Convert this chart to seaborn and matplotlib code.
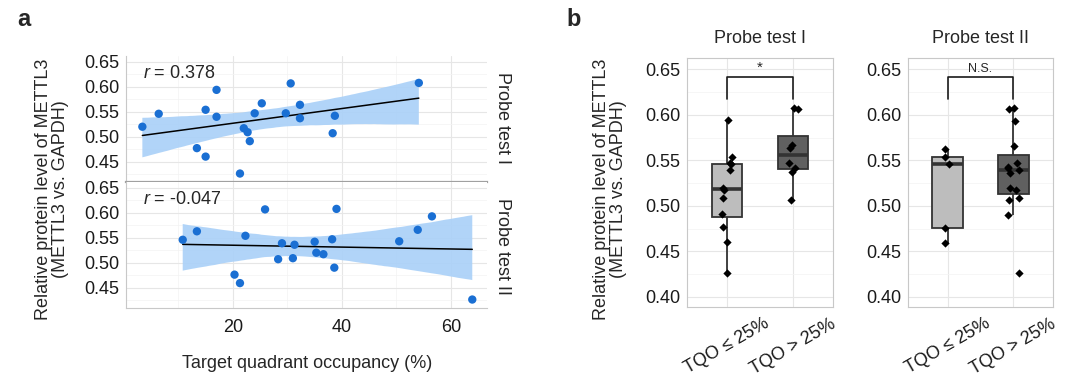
import numpy as np
import pandas as pd
import matplotlib
matplotlib.use("Agg")
import matplotlib.pyplot as plt
from matplotlib.ticker import MultipleLocator, FormatStrFormatter
import seaborn as sns

sns.set_style("white")
plt.rcParams["font.family"] = ["Liberation Sans", "DejaVu Sans"]
plt.rcParams["mathtext.fontset"] = "custom"
plt.rcParams["mathtext.it"] = "Liberation Sans:italic"
plt.rcParams["mathtext.rm"] = "Liberation Sans"

# ---------------- data ----------------
tqo_probe1 = [3.4, 6.4, 13.4, 15.0, 15.0, 17.0, 17.0, 21.3, 22.0, 22.7,
              23.1, 24.0, 25.3, 29.7, 30.6, 32.3, 32.3, 38.3, 38.7, 54.1]
mettl3_probe1 = [0.520, 0.546, 0.477, 0.554, 0.460, 0.594, 0.540, 0.426, 0.517, 0.509,
                 0.491, 0.547, 0.567, 0.547, 0.607, 0.564, 0.537, 0.507, 0.542, 0.608]

tqo_probe2 = [10.8, 13.4, 20.3, 21.3, 22.3, 25.9, 28.3, 29.0, 31.0, 31.3,
              35.0, 35.3, 36.6, 38.2, 38.6, 39.0, 50.5, 53.9, 56.5, 63.9]
mettl3_probe2 = [0.546, 0.563, 0.476, 0.459, 0.554, 0.607, 0.507, 0.539, 0.509, 0.536,
                 0.542, 0.520, 0.517, 0.547, 0.490, 0.608, 0.543, 0.566, 0.593, 0.426]

probe_names = ["Probe test I", "Probe test II"]
r_labels = ["$r$ = 0.378", "$r$ = -0.047"]
sig_labels = ["*", "N.S."]
sig_sizes = [11, 9]
group_labels = ["TQO \u2264 25%", "TQO > 25%"]
tqo_cut = 25

BLUE = "#1A6FD3"
BAND = "#A9D0F8"
BOX_COLORS = ["#BDBDBD", "#606060"]
W, H = 1080, 391


def box(x0, y0, x1, y1):
    return [x0 / W, 1 - y1 / H, (x1 - x0) / W, (y1 - y0) / H]


fig = plt.figure(figsize=(W / 100, H / 100), dpi=100)

# ---------------- panel a: scatter + regression ----------------
ax_up = fig.add_axes(box(126, 56, 487, 182))
ax_lo = fig.add_axes(box(126, 182, 487, 308))
series = [(tqo_probe1, mettl3_probe1), (tqo_probe2, mettl3_probe2)]

for i, (ax, (xs, ys)) in enumerate(zip([ax_up, ax_lo], series)):
    sns.regplot(x=xs, y=ys, ax=ax, scatter=False, ci=95, n_boot=3000, seed=11,
                line_kws=dict(color="black", lw=1.1, zorder=4))
    band = ax.collections[-1]
    band.set_facecolor(BAND)
    band.set_alpha(0.9)
    band.set_edgecolor("none")
    sns.scatterplot(x=xs, y=ys, ax=ax, color=BLUE, s=36, edgecolor="none", zorder=5)
    ax.set_xlim(0.4, 66.6)
    ax.set_ylim(0.409, 0.662)
    ax.xaxis.set_major_locator(MultipleLocator(20))
    ax.xaxis.set_minor_locator(MultipleLocator(10))
    ax.yaxis.set_minor_locator(MultipleLocator(0.025))
    ax.yaxis.set_major_formatter(FormatStrFormatter("%.2f"))
    ax.set_yticks([0.45, 0.50, 0.55, 0.60, 0.65])
    ax.grid(which="major", color="#E6E6E6", lw=0.8)
    ax.grid(which="minor", color="#F3F3F3", lw=0.5)
    ax.set_axisbelow(True)
    ax.tick_params(which="major", length=3, width=0.8, color="#333333",
                   labelsize=13, pad=2, labelcolor="#1a1a1a")
    ax.tick_params(which="minor", length=0)
    for s in ["top", "right"]:
        ax.spines[s].set_visible(False)
    ax.spines["left"].set_color("#C8C8C8")
    ax.spines["bottom"].set_color("#C8C8C8")
    ax.text(0.047, 0.86, r_labels[i], transform=ax.transAxes, fontsize=13,
            ha="left", va="center")
    ax.set_xlabel("")
    ax.set_ylabel("")

ax_up.tick_params(axis="x", length=0, labelbottom=False)
ax_up.spines["bottom"].set_color("#A0A0A0")
ax_up.spines["bottom"].set_linewidth(1.6)
ax_lo.tick_params(axis="x", pad=5)

fig.text(502 / W, 1 - 118 / H, probe_names[0], rotation=270, fontsize=13,
         ha="center", va="center")
fig.text(502 / W, 1 - 247 / H, probe_names[1], rotation=270, fontsize=13,
         ha="center", va="center")
fig.text(307 / W, 1 - 363 / H, "Target quadrant occupancy (%)", fontsize=13,
         ha="center", va="center")
ylab = "Relative protein level of METTL3\n(METTL3 vs. GAPDH)"
fig.text(52 / W, 1 - 189 / H, ylab, rotation=90, fontsize=13, ha="center",
         va="center", linespacing=1.0)
fig.text(24 / W, 1 - 20 / H, "a", fontsize=17, fontweight="bold", ha="center", va="center")

# ---------------- panel b: box plots ----------------
ax_b1 = fig.add_axes(box(687, 58, 833, 307))
ax_b2 = fig.add_axes(box(908, 58, 1053, 307))
np.random.seed(5)
for i, (ax, (xs, ys)) in enumerate(zip([ax_b1, ax_b2], series)):
    grp = np.where(np.array(xs) <= tqo_cut, group_labels[0], group_labels[1])
    df = pd.DataFrame({"group": grp, "value": ys})
    sns.boxplot(data=df, x="group", y="value", hue="group", order=group_labels,
                hue_order=group_labels, palette=BOX_COLORS, width=0.46,
                linecolor="#333333", linewidth=1.3, showfliers=False, showcaps=False,
                medianprops=dict(lw=2.6), legend=False, ax=ax)
    sns.stripplot(data=df, x="group", y="value", order=group_labels, color="black",
                  marker="D", size=4.2, jitter=0.09, ax=ax, zorder=5)
    # significance bracket
    ax.plot([0, 0, 1, 1], [0.618, 0.642, 0.642, 0.618], color="#1a1a1a", lw=1.2)
    ax.text(0.5, 0.644, sig_labels[i], ha="center", va="bottom", fontsize=sig_sizes[i])
    ax.set_xlim(-0.6, 1.6)
    ax.set_ylim(0.389, 0.6625)
    ax.set_yticks([0.40, 0.45, 0.50, 0.55, 0.60, 0.65])
    ax.yaxis.set_minor_locator(MultipleLocator(0.025))
    ax.yaxis.set_major_formatter(FormatStrFormatter("%.2f"))
    ax.grid(which="major", color="#E6E6E6", lw=0.8)
    ax.grid(which="minor", axis="y", color="#F3F3F3", lw=0.5)
    ax.set_axisbelow(True)
    ax.tick_params(which="major", length=3, width=0.8, color="#333333",
                   labelsize=13, pad=2, labelcolor="#1a1a1a")
    ax.tick_params(axis="x", pad=3)
    ax.tick_params(which="minor", length=0)
    for lab in ax.get_xticklabels():
        lab.set_rotation(30)
        lab.set_ha("center")
        lab.set_va("top")
    for s in ax.spines.values():
        s.set_color("#C8C8C8")
        s.set_linewidth(0.8)
    ax.set_title(probe_names[i], fontsize=13, pad=11)
    ax.set_xlabel("")
    ax.set_ylabel("")

fig.text(610 / W, 1 - 189 / H, ylab, rotation=90, fontsize=13, ha="center",
         va="center", linespacing=1.0)
fig.text(574 / W, 1 - 20 / H, "b", fontsize=17, fontweight="bold", ha="center", va="center")

fig.savefig("out.png", dpi=100)
